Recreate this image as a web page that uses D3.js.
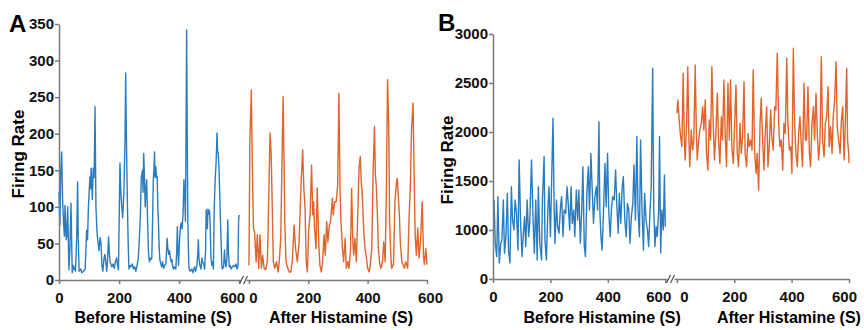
<!DOCTYPE html>
<html>
<head>
<meta charset="utf-8">
<script src="https://cdn.jsdelivr.net/npm/d3@7"></script>
<style>
  body { margin: 0; background: #fff; }
  svg { display: block; font-family: "Liberation Sans", Arial, sans-serif; }
  .axis path, .axis line { stroke: #7a7a7a; stroke-width: 1.5; }
  .axis text { font-size: 15px; font-weight: bold; fill: #111; }
</style>
</head>
<body>
<div id="chart"></div>
<script>
// [seconds, firing rate]
const beforeA = [[0,120],[3,75],[6,150],[9,175],[12,110],[15,80],[18,60],[20,102],[24,55],[26,60],[29,100],[33,14],[36,40],[40,105],[44,10],[48,20],[51,15],[55,12],[59,60],[62,134],[64,60],[67,12],[72,15],[76,10],[82,12],[87,15],[92,68],[95,55],[98,100],[103,141],[105,125],[107,153],[111,110],[114,153],[117,140],[120,237],[123,100],[126,70],[128,59],[133,40],[137,58],[140,50],[143,20],[146,12],[150,30],[153,35],[157,20],[159,12],[162,30],[165,59],[168,35],[170,25],[174,20],[176,18],[180,22],[184,16],[188,25],[192,30],[195,20],[198,14],[201,100],[203,160],[206,120],[209,100],[212,85],[216,120],[220,196],[222,283],[224,210],[226,150],[229,77],[231,40],[233,15],[236,20],[240,18],[244,22],[248,15],[252,18],[256,12],[260,20],[264,30],[268,60],[271,90],[274,140],[278,150],[280,120],[282,173],[284,150],[287,100],[289,120],[292,137],[295,80],[298,37],[301,25],[303,30],[306,28],[309,30],[312,90],[314,137],[316,150],[318,175],[320,140],[322,155],[325,140],[327,141],[329,100],[331,80],[334,40],[336,27],[339,22],[342,18],[345,25],[348,16],[352,20],[356,22],[358,40],[360,57],[362,45],[365,35],[368,40],[371,30],[373,25],[376,28],[378,20],[381,15],[384,18],[389,15],[392,40],[394,73],[396,40],[398,20],[402,60],[405,75],[407,78],[410,70],[413,90],[416,137],[419,110],[421,80],[423,200],[425,342],[427,200],[429,80],[431,40],[433,15],[437,12],[442,15],[446,10],[451,18],[455,12],[459,20],[462,35],[464,55],[466,30],[469,20],[473,15],[476,30],[478,25],[482,22],[485,15],[488,40],[490,96],[494,70],[496,97],[498,90],[501,95],[503,80],[506,30],[509,20],[512,25],[514,15],[517,100],[520,137],[523,160],[525,185],[526,201],[528,175],[530,175],[533,150],[535,120],[537,90],[540,50],[542,20],[544,15],[548,18],[551,41],[553,25],[556,18],[559,30],[562,82],[564,40],[567,18],[570,20],[573,15],[577,18],[581,20],[585,18],[589,22],[593,15],[596,20],[598,82],[600,89]];

const afterA = [[0,20],[3,189],[8,260],[11,166],[15,71],[19,66],[24,25],[28,62],[33,16],[37,62],[42,16],[46,34],[51,16],[56,14],[62,25],[66,98],[71,201],[75,171],[79,89],[82,25],[87,16],[93,25],[98,11],[102,25],[107,57],[111,153],[115,251],[118,166],[121,75],[125,25],[129,18],[136,11],[141,11],[146,25],[152,75],[157,43],[163,25],[169,52],[172,89],[176,134],[181,178],[185,125],[189,98],[193,25],[197,11],[201,66],[206,89],[211,157],[215,89],[218,107],[221,71],[226,43],[230,126],[235,52],[239,20],[244,11],[248,25],[253,62],[257,34],[262,80],[266,52],[271,75],[275,80],[281,112],[284,89],[289,107],[294,107],[299,130],[303,255],[307,121],[310,80],[315,43],[319,25],[324,57],[328,16],[333,25],[337,16],[342,39],[346,125],[350,52],[353,34],[357,57],[362,25],[366,80],[371,153],[375,169],[379,130],[382,116],[387,66],[391,43],[396,30],[400,16],[405,11],[409,21],[414,43],[418,144],[423,210],[426,144],[429,130],[433,89],[436,43],[441,21],[445,16],[450,25],[454,52],[459,25],[463,121],[467,274],[471,212],[474,80],[478,34],[481,16],[487,21],[492,107],[497,134],[500,139],[503,116],[507,89],[510,52],[515,25],[519,21],[524,16],[528,25],[535,16],[539,80],[544,130],[548,208],[553,242],[556,162],[560,62],[564,34],[569,71],[573,30],[578,52],[584,107],[588,34],[591,21],[596,43],[600,21]];

const beforeB = [[0,1290],[3.5,1306],[8,864],[13,728],[17,1340],[22,663],[27,864],[31,898],[36,1306],[40,762],[45,932],[50,1374],[54,796],[59,663],[64,1442],[68,1102],[73,1000],[77,1306],[82,1170],[87,796],[91,1714],[96,1102],[101,728],[105,932],[110,1136],[114,830],[119,1306],[124,932],[128,1068],[134,1714],[140,1068],[144,762],[149,1306],[154,694],[158,1442],[163,864],[169,694],[172,1306],[178,1748],[181,898],[186,694],[191,1204],[195,1442],[200,932],[205,1612],[209,2140],[213,1204],[216,864],[221,1306],[225,1034],[230,966],[235,1238],[239,1340],[244,932],[248,1204],[253,1170],[258,1442],[262,1272],[267,1000],[272,1442],[276,1068],[281,1204],[285,932],[290,1408],[295,1102],[299,1408],[304,864],[309,1204],[313,1646],[318,830],[322,728],[327,1374],[332,1646],[336,1204],[341,1782],[346,1374],[350,1068],[355,1340],[360,1442],[364,1204],[369,2105],[372,1204],[376,932],[380,796],[385,1204],[390,1680],[394,1238],[399,1782],[403,1204],[408,932],[413,1238],[417,1340],[422,1306],[427,1612],[431,1272],[436,966],[440,1374],[445,1068],[450,1442],[454,1544],[459,1102],[464,932],[468,1272],[473,1204],[477,864],[482,1136],[487,1272],[491,1663],[496,1102],[501,1952],[505,1204],[510,932],[514,1918],[519,1204],[524,796],[528,1374],[533,1102],[538,1000],[542,830],[547,1204],[551,1442],[556,2650],[560,1204],[564,830],[568,1034],[572,932],[577,1204],[580,1952],[584,765],[588,1204],[593,1000],[597,1561],[600,1034]];

const afterB = [[0,2193],[3.5,2327],[8,2122],[13,1952],[17.5,1850],[22,2599],[26,1918],[29,1714],[34,2088],[38,2666],[42,1918],[45,1646],[50,2020],[55,1816],[59,1918],[64,2683],[67.5,2054],[71,1714],[76,1918],[80,2020],[85,2088],[90,2258],[94,2020],[99,2327],[103.5,1782],[108,1612],[113,2122],[117.5,1918],[122,2666],[127,2054],[131,1714],[136,1986],[141,2395],[145,1918],[150,1680],[155,2156],[159,1918],[164,2531],[169,1918],[173,1646],[178,2497],[183,1918],[187,2531],[192,1816],[197,1680],[201,2054],[206,2480],[210.5,1782],[215,1646],[220,2088],[224.5,1782],[229,1952],[234,2514],[238,1782],[243,1646],[248,1986],[252,1850],[257,1918],[262,1816],[266,2633],[271,1816],[276,1578],[280,1782],[285,1408],[290,2088],[294,2344],[299,1918],[303.5,1612],[308,1986],[313,2258],[317.5,1646],[322,1850],[327,2224],[331,1952],[336,1816],[341,2258],[345,2224],[350,2803],[355,2088],[359,1850],[364,1918],[369,1612],[373,2088],[378,1986],[383,2752],[387,2088],[392,1816],[397,1850],[401,1578],[406,2854],[410.5,2088],[415,1782],[420,1646],[424.5,1986],[429,2156],[434,1850],[438,1646],[443,2497],[448,1918],[452,1918],[457,2462],[462,1782],[466,1646],[471,2088],[476,2258],[480,1918],[485,2395],[490,1952],[494,1714],[499,1918],[503.5,2769],[508,1918],[513,1748],[517.5,2088],[522,2156],[527,2462],[531,1850],[536,2054],[541,1782],[545,2156],[550,2327],[555,2717],[559,2054],[564,1918],[569,1782],[573,2088],[578,2258],[583,1714],[587,2088],[592,2650],[595,1918],[599,1782],[600,1684]];

const xTicks = [0, 200, 400, 600];
const yTicksA = [0, 50, 100, 150, 200, 250, 300, 350];
const yTicksB = [500, 1000, 1500, 2000, 2500, 3000]; // bottom tick is labelled "0" (broken axis)
const BLUE = '#2a7cc0';
const ORANGE = '#e0642c';

const width = 864, height = 330;

const svg = d3.select('#chart').append('svg')
  .attr('width', width)
  .attr('height', height)
  .attr('viewBox', [0, 0, width, height]);

function drawPanel(p) {
  const g = svg.append('g');

  const y = d3.scaleLinear().domain(p.yDomain).range([p.y0, p.y1]);
  const xBefore = d3.scaleLinear().domain([0, 606]).range(p.beforeRange);
  const xAfter = d3.scaleLinear().domain([-10, 600]).range(p.afterRange);

  // traces
  const lineB = d3.line().x(d => xBefore(d[0])).y(d => y(d[1]));
  const lineA = d3.line().x(d => xAfter(d[0])).y(d => y(d[1]));
  g.append('path').datum(p.before)
    .attr('d', lineB).attr('fill', 'none')
    .attr('stroke', BLUE).attr('stroke-width', 1.4).attr('stroke-linejoin', 'round');
  g.append('path').datum(p.after)
    .attr('d', lineA).attr('fill', 'none')
    .attr('stroke', ORANGE).attr('stroke-width', 1.4).attr('stroke-linejoin', 'round');

  // y axis
  g.append('g').attr('class', 'axis')
    .attr('transform', `translate(${p.beforeRange[0]},0)`)
    .call(d3.axisLeft(y).tickValues(p.yTicks).tickSize(4).tickPadding(1).tickSizeOuter(0).tickFormat(p.yFormat));

  // x axes
  const axB = g.append('g').attr('class', 'axis')
    .attr('transform', `translate(0,${p.y0})`)
    .call(d3.axisBottom(xBefore).tickValues(xTicks).tickSize(4).tickSizeOuter(0));
  axB.selectAll('text').attr('dy', '1.05em')
    .attr('dx', d => d === 600 ? -7 : 0);
  const axA = g.append('g').attr('class', 'axis')
    .attr('transform', `translate(0,${p.y0})`)
    .call(d3.axisBottom(xAfter).tickValues(xTicks).tickSize(4).tickSizeOuter(0));
  axA.selectAll('text').attr('dy', '1.05em')
    .attr('dx', d => d === 0 ? p.zeroShift : (d === 600 ? p.endShift : 0));

  // break marks
  const bx = (p.beforeRange[1] + p.afterRange[0]) / 2;
  [-2, 2].forEach(o => {
    g.append('line')
      .attr('x1', bx + o - 2).attr('x2', bx + o + 2)
      .attr('y1', p.y0 + 4).attr('y2', p.y0 - 4)
      .attr('stroke', '#555').attr('stroke-width', 1.3);
  });

  // axis titles
  g.append('text')
    .attr('x', xBefore(300) + p.titleShift[0]).attr('y', 323)
    .attr('text-anchor', 'middle')
    .attr('font-size', 16).attr('font-weight', 'bold')
    .text('Before Histamine (S)');
  g.append('text')
    .attr('x', xAfter(300) + p.titleShift[1]).attr('y', 323)
    .attr('text-anchor', 'middle')
    .attr('font-size', 16).attr('font-weight', 'bold')
    .text('After Histamine (S)');

  g.append('text')
    .attr('transform', `translate(${p.yLabel[0]},${p.yLabel[1]}) rotate(-90)`)
    .attr('text-anchor', 'middle')
    .attr('font-size', 17).attr('font-weight', 'bold')
    .text('Firing Rate');

  g.append('text')
    .attr('x', p.letter[0]).attr('y', p.letter[1])
    .attr('font-size', 24).attr('font-weight', 'bold')
    .text(p.name);
}

drawPanel({
  name: 'A', letter: [9, 32],
  before: beforeA, after: afterA,
  yDomain: [0, 350], yTicks: yTicksA, yFormat: d => d,
  y0: 280, y1: 24,
  beforeRange: [59, 241], afterRange: [246, 427],
  zeroShift: 4, endShift: 3, titleShift: [4, 3],
  yLabel: [24, 154]
});

drawPanel({
  name: 'B', letter: [438, 31],
  before: beforeB, after: afterB,
  yDomain: [500, 3000], yTicks: yTicksB, yFormat: d => d === 500 ? '0' : d,
  y0: 279, y1: 34,
  beforeRange: [493, 667], afterRange: [674, 849],
  zeroShift: 7, endShift: -5, titleShift: [23, 26],
  yLabel: [453, 160]
});
</script>
</body>
</html>
